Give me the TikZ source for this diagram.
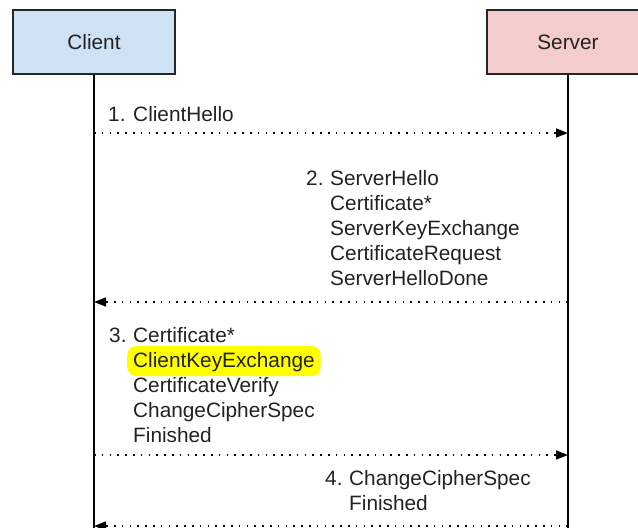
\documentclass[tikz,border=0pt]{standalone}
\usepackage{fontspec}
\setmainfont{Liberation Sans}
\usetikzlibrary{arrows.meta}
\definecolor{clientfill}{HTML}{CFE2F3}
\definecolor{serverfill}{HTML}{F4CCCC}
\definecolor{txt}{HTML}{222222}
\definecolor{hl}{HTML}{FFFF00}
\begin{document}
\begin{tikzpicture}[x=1pt,y=-1pt,
  actor/.style={draw=black!85, line width=1.8pt, minimum width=162pt, minimum height=64pt, inner sep=0pt, text=txt, font=\fontsize{20.8}{25}\selectfont},
  lbl/.style={anchor=base west, inner sep=0pt, text=txt, font=\fontsize{20.8}{25}\selectfont},
  lifeline/.style={line width=1.8pt, black},
  msg/.style={line width=1.6pt, black, dash pattern=on 1.6pt off 6.2pt, -{Triangle[length=12pt,width=9pt]}},
  hilite/.style={fill=hl, rounded corners=9pt, text height=16pt, text depth=4pt, inner xsep=6pt, inner ysep=5pt}]
\useasboundingbox (0,0) rectangle (638,528);
% actors
\node[actor, fill=clientfill] (client) at (94,42) {Client};
\node[actor, fill=serverfill] (server) at (568,42) {Server};
\coordinate (cend) at (94,540);
\coordinate (send) at (568,540);
\draw[lifeline] (client.south) -- (cend);
\draw[lifeline] (server.south) -- (send);
% message coordinates
\coordinate (c1) at (94,133);  \coordinate (s1) at (568,133);
\coordinate (c2) at (94,302);  \coordinate (s2) at (568,302);
\coordinate (c3) at (94,455);  \coordinate (s3) at (568,455);
\coordinate (c4) at (94,526);  \coordinate (s4) at (568,526);
\draw[msg] (c1) -- (s1);
\draw[msg] (s2) -- (c2);
\draw[msg] (c3) -- (s3);
\draw[msg] (s4) -- (c4);
% labels
\node[lbl] (m1) at (108,121) {1. ClientHello};
\node[lbl] (m2n) at (306,185) {2.};
\node[lbl] (m2a) at (330,185) {ServerHello};
\node[lbl] (m2b) at (330,210) {Certificate*};
\node[lbl] (m2c) at (330,235) {ServerKeyExchange};
\node[lbl] (m2d) at (330,260) {CertificateRequest};
\node[lbl] (m2e) at (330,285) {ServerHelloDone};
\node[lbl] (m3n) at (109,342) {3.};
\node[lbl] (m3a) at (133,342) {Certificate*};
\node[lbl, hilite, anchor=base west] (m3b) at (127,367) {ClientKeyExchange};
\node[lbl] (m3c) at (133,392) {CertificateVerify};
\node[lbl] (m3d) at (133,417) {ChangeCipherSpec};
\node[lbl] (m3e) at (133,442) {Finished};
\node[lbl] (m4n) at (325,485) {4.};
\node[lbl] (m4a) at (349,485) {ChangeCipherSpec};
\node[lbl] (m4b) at (349,510) {Finished};
\end{tikzpicture}
\end{document}
